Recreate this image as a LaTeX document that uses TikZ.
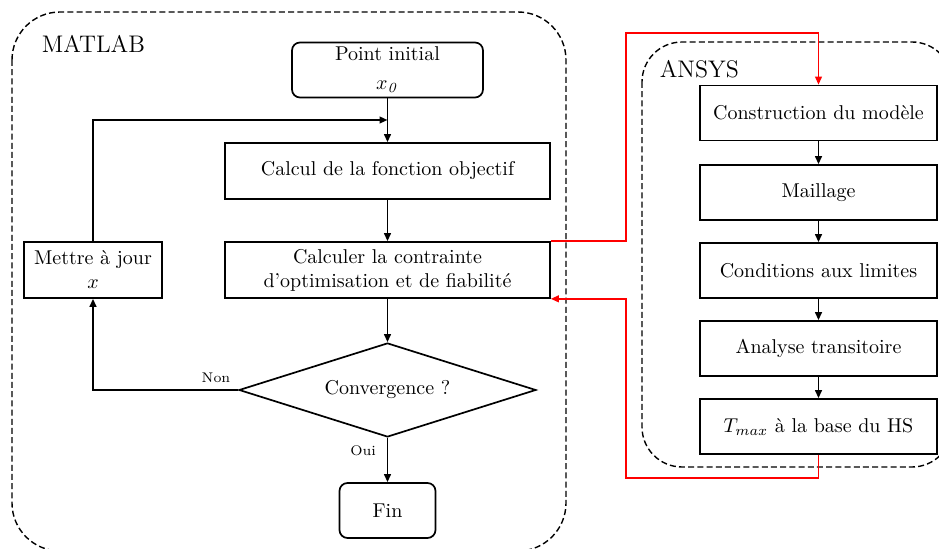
\documentclass[tikz,border=0pt]{standalone}
\usetikzlibrary{arrows.meta,shapes.geometric}
\begin{document}
\begin{tikzpicture}[x=0.5pt,y=-0.5pt,
  line width=0.85pt,
  tip/.style={-{Triangle[length=4pt,width=3.4pt]}},
  box/.style={draw,rectangle,minimum width=#1,minimum height=27.5pt,inner sep=2pt,align=center,font=\normalsize},
  rbox/.style={box=#1,rounded corners=4pt},
  grp/.style={draw,dash pattern=on 3pt off 1.6pt,line width=0.7pt},
  lbl/.style={font=\large,anchor=west,inner sep=0pt},
  redline/.style={draw=red,line width=0.75pt,-{Triangle[length=4pt,width=3.4pt]}}
]
\useasboundingbox (0,0) rectangle (939,549);
\begin{scope}
\clip (0,0) rectangle (939,549);
\draw[grp,rounded corners=24pt] (12,12) rectangle (566,551);
\draw[grp,rounded corners=20pt] (642,42) rectangle (952,467);
\end{scope}
\node[lbl] (mt) at (41,44) {MATLAB};
\node[lbl] (an) at (659,69) {ANSYS};

\node[rbox=95.5pt] (pi) at (387.5,70) {Point initial\\[2.5pt] $x_{\mathit{0}}$};
\node[box=162.5pt,minimum height=28pt] (cf) at (387.5,171) {Calcul de la fonction objectif};
\node[box=162.5pt,minimum height=28pt] (cc) at (387.5,270) {Calculer la contrainte\\ d'optimisation et de fiabilit\'e};
\node[box=69pt,minimum height=28pt] (mj) at (93,270) {Mettre \`a jour\\ $x$};
\node[draw,diamond,shape aspect=3.16,minimum width=148.5pt,minimum height=47pt,inner sep=0pt] (cv) at (387.5,390) {Convergence ?};
\node[rbox=48pt] (fin) at (387.5,510.5) {Fin};

\node[box=118.5pt] (cm) at (818.5,113) {Construction du mod\`ele};
\node[box=118.5pt] (ma) at (818.5,192.5) {Maillage};
\node[box=118.5pt] (cl) at (818.5,270.5) {Conditions aux limites};
\node[box=118.5pt] (at) at (818.5,348.5) {Analyse transitoire};
\node[box=118.5pt] (th) at (818.5,426.5) {$T_{max}$ \`a la base du HS};

\coordinate (fb) at (387.5,120);
\coordinate (r1) at (626,33);
\coordinate (r2) at (626,478);

\draw (pi.south) -- (fb);
\draw[tip] (fb) -- (cf.north);
\draw[tip] (cf.south) -- (cc.north);
\draw[tip] (cc.south) -- (cv.north);
\draw[tip] (cv.south) -- node[left,font=\scriptsize,pos=0.3,xshift=-2pt] (oui) {Oui} (fin.north);
\draw[tip] (cv.west) -| (mj.south);
\node[font=\scriptsize] (non) at (216,378) {Non};
\draw[tip] (mj.north) |- (fb);

\draw[tip] (cm.south) -- (ma.north);
\draw[tip] (ma.south) -- (cl.north);
\draw[tip] (cl.south) -- (at.north);
\draw[tip] (at.south) -- (th.north);

\draw[redline] (cc.north east) -| (r1) -| (cm.north);
\draw[redline] (th.south) |- (r2) |- (cc.south east);
\end{tikzpicture}
\end{document}
